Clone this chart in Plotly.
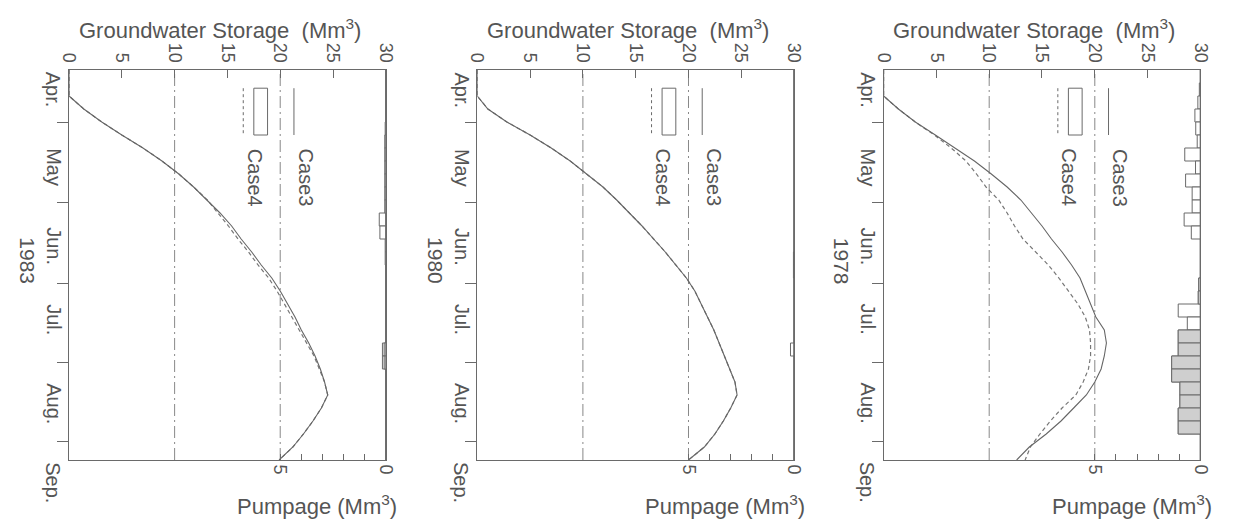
import plotly.graph_objects as go

W, H = 1234, 521

# ---- time coordinate: pentads counted from 1 April (0) to 1 September (30)
t_grid = list(range(31))
pentad_centers = [i + 0.5 for i in range(30)]
month_labels = ["Apr.", "May", "Jun.", "Jul.", "Aug.", "Sep."]
month_start_days = [0, 30, 61, 91, 122, 153]
season_days = 153
time_ticks = [4.0, 10.2, 16.4, 22.5, 28.6]

storage_ticks = [0, 5, 10, 15, 20, 25, 30]
pump_ticks = [0, 1, 2, 3, 4, 5]
pump_ticktext = ["0", "", "", "", "", "5"]
grid_levels = [10, 20]

years = ["1983", "1980", "1978"]

# ---- groundwater storage (Mm3) at each pentad boundary
storage_case3 = {
    "1983": [0, 0, 0, 1.4, 3.1, 5.0, 7.0, 8.8, 10.4, 11.8, 13.1, 14.3, 15.4, 16.3, 17.3, 18.2,
             19.2, 20.0, 20.7, 21.4, 22.0, 22.7, 23.3, 23.8, 24.2, 24.5, 23.9, 23.1, 22.2, 21.2, 19.9],
    "1980": [0, 0, 0, 1.0, 2.8, 5.0, 7.0, 8.8, 10.4, 11.9, 13.2, 14.4, 15.6, 16.7, 17.8, 18.8,
             19.8, 20.6, 21.2, 21.8, 22.4, 22.9, 23.4, 23.9, 24.4, 24.6, 24.0, 23.3, 22.5, 21.5, 20.0],
    "1978": [0, 0, 0, 1.4, 3.0, 4.9, 6.8, 8.6, 10.2, 11.7, 13.0, 14.0, 15.0, 15.9, 16.9, 17.8,
             18.6, 19.1, 19.6, 20.1, 20.9, 21.1, 20.9, 20.6, 20.0, 19.2, 18.0, 16.8, 15.4, 13.8, 12.6],
}
storage_case4 = {
    "1983": [0, 0, 0, 1.4, 3.1, 5.0, 7.0, 8.8, 10.4, 11.8, 13.1, 14.1, 15.1, 16.0, 17.0, 17.9,
             18.9, 19.7, 20.4, 21.1, 21.8, 22.5, 23.2, 23.7, 24.2, 24.5, 23.9, 23.1, 22.2, 21.2, 19.9],
    "1980": [0, 0, 0, 1.0, 2.8, 5.0, 7.0, 8.8, 10.4, 11.9, 13.2, 14.4, 15.6, 16.7, 17.8, 18.8,
             19.8, 20.6, 21.2, 21.8, 22.4, 22.9, 23.4, 23.9, 24.4, 24.6, 24.0, 23.3, 22.5, 21.5, 20.0],
    "1978": [0, 0, 0, 1.4, 3.0, 4.8, 6.4, 7.8, 8.8, 9.7, 10.9, 11.7, 12.4, 13.2, 14.4, 15.6,
             16.6, 17.5, 18.4, 19.1, 19.5, 19.6, 19.6, 19.4, 18.9, 18.2, 16.9, 15.8, 14.8, 13.9, 13.4],
}

# ---- pumpage (Mm3) per pentad
pump_case3 = {
    "1983": [0, 0, 0, 0, 0.03, 0.05, 0.05, 0.05, 0.05, 0.05, 0.05, 0, 0, 0.03, 0.03,
             0, 0, 0, 0, 0, 0, 0.08, 0.08, 0, 0, 0, 0, 0, 0, 0],
    "1980": [0, 0, 0, 0, 0, 0, 0, 0, 0, 0, 0, 0, 0, 0, 0.03, 0.03,
             0, 0, 0, 0, 0, 0, 0, 0, 0, 0, 0, 0, 0, 0],
    "1978": [0, 0, 0, 0, 0, 0, 0, 0, 0, 0, 0, 0, 0, 0, 0, 0, 0.08, 0.1,
             0, 0, 1.05, 1.05, 1.36, 1.36, 0.97, 0.97, 1.05, 1.05, 0, 0],
}
pump_case4 = {
    "1983": [0, 0, 0, 0, 0, 0, 0, 0, 0, 0, 0, 0.31, 0.28, 0, 0,
             0, 0, 0, 0, 0, 0, 0.16, 0.16, 0, 0, 0, 0, 0, 0, 0],
    "1980": [0, 0, 0, 0, 0, 0, 0, 0, 0, 0, 0, 0, 0, 0, 0, 0,
             0, 0, 0, 0, 0, 0.17, 0, 0, 0, 0, 0, 0, 0, 0],
    "1978": [0, 0.05, 0.12, 0.26, 0.22, 0.15, 0.74, 0.23, 0.7, 0.39, 0.39, 0.77, 0.43, 0, 0, 0,
             0.08, 0.1, 1.05, 0.62, 1.05, 1.05, 1.36, 1.36, 0.97, 0.97, 1.05, 1.05, 0, 0],
}

# ---- page geometry (pixels)
panel_left = [60, 475, 888]
panel_width = 322
plot_top, plot_bottom = 70, 460

INK = "#6a6a6a"
TXT = "#555555"
FONT = "Liberation Sans, Arial, sans-serif"


def px_x(p):
    return p / W


def px_y(p):
    return 1 - p / H


fig = go.Figure()
layout = dict(
    width=W, height=H, autosize=False,
    margin=dict(l=0, r=0, t=0, b=0),
    paper_bgcolor="white", plot_bgcolor="white",
    showlegend=False, barmode="overlay",
    font=dict(family=FONT, color=TXT),
)
shapes, annotations = [], []

for i, year in enumerate(years):
    sx = "x" if i == 0 else f"x{2 * i + 1}"
    px = f"x{2 * i + 2}"
    yy = "y" if i == 0 else f"y{i + 1}"
    sx_key = "xaxis" if i == 0 else f"xaxis{2 * i + 1}"
    px_key = f"xaxis{2 * i + 2}"
    yy_key = "yaxis" if i == 0 else f"yaxis{i + 1}"
    left = panel_left[i]
    right = left + panel_width
    dom_x = [px_x(left), px_x(right)]

    layout[sx_key] = dict(
        domain=dom_x, range=[0, 30], side="top", anchor=yy,
        tickvals=storage_ticks, ticktext=[str(v) for v in storage_ticks],
        tickangle=90, ticks="inside", ticklen=8, tickcolor=INK, tickwidth=1,
        showline=True, linecolor=INK, linewidth=1,
        showgrid=False, zeroline=False,
        tickfont=dict(size=18, color=TXT, family=FONT),
    )
    layout[px_key] = dict(
        range=[15, 0], side="bottom", anchor=yy, overlaying=sx,
        tickvals=pump_ticks, ticktext=pump_ticktext,
        tickangle=90, ticks="inside", ticklen=6, tickcolor=INK, tickwidth=1,
        showline=True, linecolor=INK, linewidth=1,
        showgrid=False, zeroline=False,
        tickfont=dict(size=18, color=TXT, family=FONT),
    )
    layout[yy_key] = dict(
        domain=[px_y(plot_bottom), px_y(plot_top)], range=[30, 0], anchor=sx,
        tickvals=time_ticks, showticklabels=False,
        ticks="outside", ticklen=11, tickcolor=INK, tickwidth=1,
        showline=True, mirror=True, linecolor=INK, linewidth=1,
        showgrid=False, zeroline=False,
    )

    # pumpage bars hanging from the right-hand edge
    fig.add_trace(go.Bar(
        orientation="h", x=pump_case4[year], y=pentad_centers, width=1, base=0,
        xaxis=px, yaxis=yy, name="Case4",
        marker=dict(color="white", line=dict(color=INK, width=1)),
    ))
    fig.add_trace(go.Bar(
        orientation="h", x=pump_case3[year], y=pentad_centers, width=1, base=0,
        xaxis=px, yaxis=yy, name="Case3",
        marker=dict(color="#cfcfcf", line=dict(color=INK, width=1)),
    ))

    # storage curves
    fig.add_trace(go.Scatter(
        x=storage_case4[year], y=t_grid, mode="lines", xaxis=sx, yaxis=yy, name="Case4",
        line=dict(color="#777777", width=1.2, dash="4px,3px"),
    ))
    fig.add_trace(go.Scatter(
        x=storage_case3[year], y=t_grid, mode="lines", xaxis=sx, yaxis=yy, name="Case3",
        line=dict(color="#666666", width=1.1),
    ))

    # dash-dot reference levels
    for g in grid_levels:
        shapes.append(dict(
            type="line", xref=sx, yref=f"{yy} domain", x0=g, x1=g, y0=0, y1=1,
            line=dict(color="#888888", width=1, dash="12px,4px,2px,4px"), layer="below",
        ))

    # in-plot key
    shapes.append(dict(type="line", xref=sx, yref=yy, x0=16.5, x1=16.5, y0=1.4, y1=4.9,
                       line=dict(color=INK, width=1, dash="3px,3px")))
    shapes.append(dict(type="rect", xref=sx, yref=yy, x0=17.5, x1=18.8, y0=1.4, y1=5.0,
                       line=dict(color=INK, width=1), fillcolor="white"))
    shapes.append(dict(type="line", xref=sx, yref=yy, x0=21.3, x1=21.3, y0=1.4, y1=5.0,
                       line=dict(color=INK, width=1)))
    for name, sv in (("Case4", 17.6), ("Case3", 22.45)):
        annotations.append(dict(
            text=name, xref=sx, yref=yy, x=sv, y=5.9, xanchor="center", yanchor="top",
            textangle=90, showarrow=False, font=dict(size=20, color=TXT, family=FONT),
        ))

    # month names along the time axis
    for lab, d in zip(month_labels, month_start_days):
        annotations.append(dict(
            text=lab, xref="paper", yref=yy, x=px_x(left - 16), y=d * 30 / season_days,
            xanchor="center", yanchor="top", textangle=90, showarrow=False,
            font=dict(size=20, color=TXT, family=FONT),
        ))

    # year
    annotations.append(dict(
        text=year, xref="paper", yref="paper", x=px_x(left - 42), y=px_y(261),
        xanchor="center", yanchor="middle", textangle=90, showarrow=False,
        font=dict(size=21, color=TXT, family=FONT),
    ))

    # axis titles
    annotations.append(dict(
        text="Groundwater Storage\u00a0 (Mm<sup>3</sup>)", xref="paper", yref="paper",
        x=px_x(left + 153), y=px_y(29), xanchor="center", yanchor="middle",
        showarrow=False, font=dict(size=22, color=TXT, family=FONT),
    ))
    annotations.append(dict(
        text="Pumpage (Mm<sup>3</sup>)", xref="paper", yref="paper",
        x=px_x(left + 252), y=px_y(505), xanchor="center", yanchor="middle",
        showarrow=False, font=dict(size=22, color=TXT, family=FONT),
    ))

layout["shapes"] = shapes
layout["annotations"] = annotations
fig.update_layout(**layout)

fig.write_html("out.html")
